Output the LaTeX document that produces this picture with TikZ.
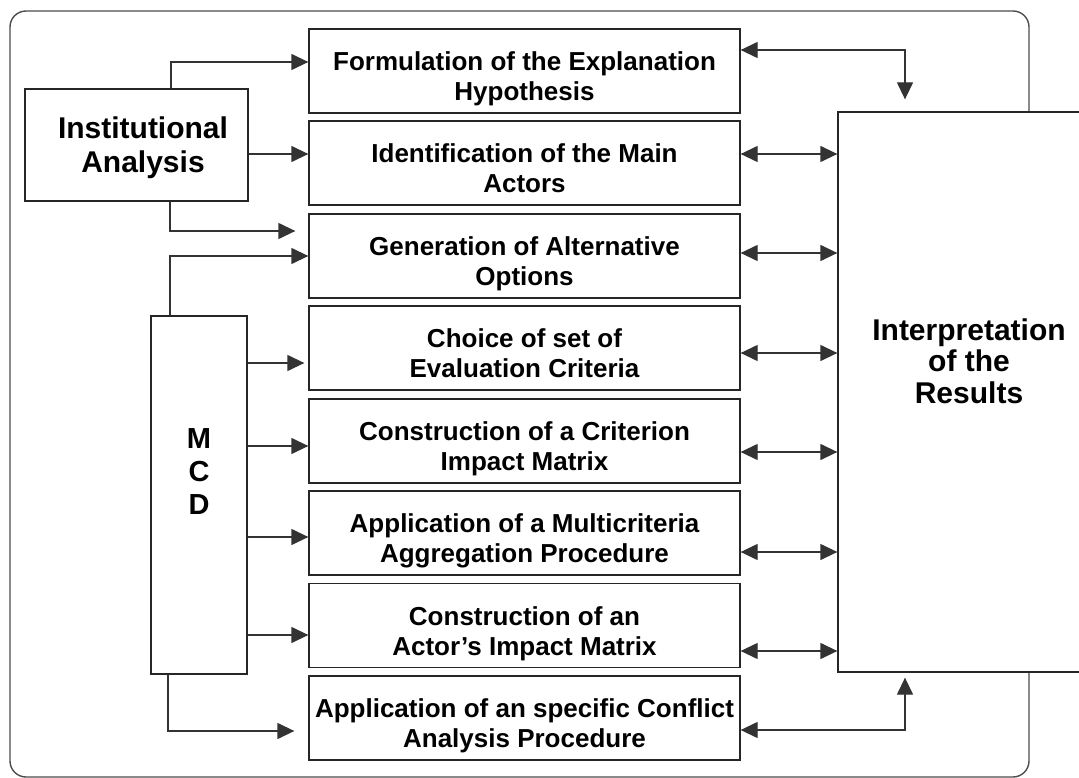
\documentclass[tikz,border=0pt]{standalone}
\usepackage{fontspec}
\setmainfont{Liberation Sans}
\usetikzlibrary{arrows.meta,calc}
\begin{document}
\begin{tikzpicture}[x=1pt,y=1pt,
  box/.style={draw=black!85,line width=1.3pt,fill=white,align=center,inner sep=0pt,font=\bfseries\fontsize{26}{30}\selectfont},
  midbox/.style={box,minimum width=431pt,minimum height=84pt,text height=65pt,text depth=6pt},
  arr/.style={draw=black!80,line width=1.3pt,-{Triangle[length=17pt,width=16pt]}},
  darr/.style={draw=black!80,line width=1.3pt,{Triangle[length=17pt,width=16pt]}-{Triangle[length=17pt,width=16pt]}},
  frame/.style={draw=black!70,line width=1.4pt,rounded corners=16pt}]
\useasboundingbox (0,0) rectangle (1079,-778);
\draw[frame] (10,-11) rectangle (1029,-777);

% middle boxes
\node[midbox] (f1) at (524.5,-71) {Formulation of the Explanation\\Hypothesis};
\node[midbox] (f2) at (524.5,-163) {Identification of the Main\\Actors};
\node[midbox] (f3) at (524.5,-256) {Generation of Alternative\\Options};
\node[midbox] (f4) at (524.5,-348) {Choice of set of\\Evaluation Criteria};
\node[midbox] (f5) at (524.5,-441) {Construction of a Criterion\\Impact Matrix};
\node[midbox] (f6) at (524.5,-533) {Application of a Multicriteria\\Aggregation Procedure};
\node[midbox] (f7) at (524.5,-625.5) {Construction of an\\Actor’s Impact Matrix};
\node[midbox] (f8) at (524.5,-718) {Application of an specific Conflict\\Analysis Procedure};

% left boxes
\node[box,minimum width=223pt,minimum height=112pt,font=\bfseries\fontsize{30}{34}\selectfont,text height=62pt,text depth=6pt] (inst) at (136.5,-145) {\hspace{13pt}Institutional\\\hspace{13pt}Analysis};
\node[box,minimum width=96pt,minimum height=358pt,font=\bfseries\fontsize{29}{33}\selectfont,text depth=46pt] (mcd) at (199,-495) {M\\C\\D};

% right box
\node[box,minimum width=262pt,minimum height=560pt,font=\bfseries\fontsize{30}{31.5}\selectfont,text depth=62pt] (interp) at (969,-392) {Interpretation\\of the\\Results};

% left connectors
\coordinate (a1) at ([yshift=9pt]f1.west);
\draw[arr] ([xshift=34.5pt]inst.north) |- (a1);
\coordinate (a2) at ([yshift=9pt]f2.west);
\draw[arr] (inst.east |- a2) -- (a2);
\coordinate (a3) at ([xshift=-13pt,yshift=25pt]f3.west);
\draw[arr] ([xshift=33.5pt]inst.south) |- (a3);
\draw[arr] ([xshift=-29pt]mcd.north) |- (f3.west);
\coordinate (a4) at ([xshift=-4pt,yshift=-15pt]f4.west);
\draw[arr] (mcd.east |- a4) -- (a4);
\coordinate (a5) at ([yshift=-5pt]f5.west);
\draw[arr] (mcd.east |- a5) -- (a5);
\coordinate (a6) at ([yshift=-4pt]f6.west);
\draw[arr] (mcd.east |- a6) -- (a6);
\coordinate (a7) at ([yshift=-9.5pt]f7.west);
\draw[arr] (mcd.east |- a7) -- (a7);
\coordinate (a8) at ([xshift=-14pt,yshift=-13pt]f8.west);
\draw[arr] ([xshift=-31pt]mcd.south) |- (a8);

% right connectors
\coordinate (r1) at ([yshift=21pt]f1.east);
\coordinate (it) at ([xshift=-64pt,yshift=12pt]interp.north);
\draw[darr] (r1) -| (it);
\coordinate (r2) at ([yshift=9pt]f2.east);
\draw[darr] (r2) -- (r2 -| interp.west);
\coordinate (r3) at ([yshift=3pt]f3.east);
\draw[darr] (r3) -- (r3 -| interp.west);
\coordinate (r4) at ([yshift=-5pt]f4.east);
\draw[darr] (r4) -- (r4 -| interp.west);
\coordinate (r5) at ([yshift=-11pt]f5.east);
\draw[darr] (r5) -- (r5 -| interp.west);
\coordinate (r6) at ([yshift=-19pt]f6.east);
\draw[darr] (r6) -- (r6 -| interp.west);
\coordinate (r7) at ([yshift=-25.5pt]f7.east);
\draw[darr] (r7) -- (r7 -| interp.west);
\coordinate (r8) at ([yshift=-12pt]f8.east);
\coordinate (ib) at ([xshift=-64pt,yshift=-5pt]interp.south);
\draw[darr] (r8) -| (ib);
\end{tikzpicture}
\end{document}
